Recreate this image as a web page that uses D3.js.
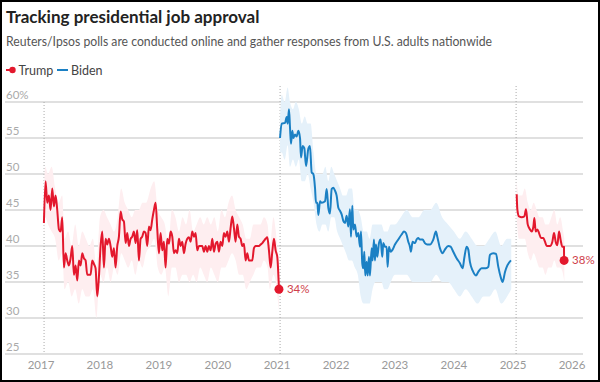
<!DOCTYPE html>
<html>
<head>
<meta charset="utf-8">
<script src="https://cdn.jsdelivr.net/npm/d3@7"></script>
<style>
  html, body { margin: 0; padding: 0; background: #fff; }
  svg { display: block; }
  text { font-family: Lato, "Noto Sans", sans-serif; }
</style>
</head>
<body>
<script>
// ---------------- DATA ----------------
const titleText = "Tracking presidential job approval";
const subtitleText = "Reuters/Ipsos polls are conducted online and gather responses from U.S. adults nationwide";
const legendLabels = ["Trump", "Biden"];

const yTicks = [25, 30, 35, 40, 45, 50, 55, 60];
const xTickYears = [2017, 2018, 2019, 2020, 2021, 2022, 2023, 2024, 2025, 2026];
const inaugurations = ["2017-01-20", "2021-01-20", "2025-01-20"];

// Trump, first term: polls in order, spaced evenly between first and last poll date
const trump1Start = "2017-01-19";
const trump1End = "2021-01-13";
const trump1Values = [
  43.2, 49, 46, 47, 45, 48, 45.5, 47, 45, 42.3, 42, 44, 37, 39, 38, 37.3, 38.3, 40, 36, 37.3,
  35.2, 38, 37.3, 39, 38.3, 38, 36, 36, 36, 38, 37.5, 36.9, 33, 35.7, 40, 42, 37, 41, 40.2, 41,
  40, 38.5, 39.7, 37, 40, 41.3, 44.8, 43.7, 43.4, 40.4, 41.8, 40, 41, 41.3, 42, 40.4, 42.2, 38, 41, 41.3,
  42, 41.8, 40, 42.7, 42.2, 43.7, 45, 46,
  42.3, 39, 41.8, 39.4, 40.6, 37, 41, 40.3, 42, 41.3, 39, 39.4, 39, 41, 40, 40.6, 39, 40.3, 41, 41.2,
  40.6, 42, 41.3, 41.8, 39.4, 40, 40, 40, 39.2, 40, 39.2, 40, 39.4, 41, 39.2, 40.3, 40.6, 39.2, 40.6, 40,
  41.8, 41.3, 42, 40.6, 42.5, 44.1, 42.5, 40.6, 43, 41.3, 41, 40, 40.3, 38, 39, 38, 38, 38, 39.7, 40,
  40, 40, 40.2, 40.4, 40.7, 41, 41.2, 39.4, 37, 39.2, 41, 39.4, 38.5, 34
];
const trump1BandYears = [2017.05, 2017.07, 2017.12, 2017.18, 2017.24, 2017.30, 2017.36, 2017.40, 2017.46, 2017.52,
  2017.58, 2017.64, 2017.70, 2017.76, 2017.82, 2017.88, 2017.94, 2018.00, 2018.06, 2018.12,
  2018.18, 2018.24, 2018.30, 2018.36, 2018.42, 2018.48, 2018.54, 2018.60, 2018.66, 2018.72,
  2018.78, 2018.86, 2018.92, 2018.98, 2019.04, 2019.10, 2019.16, 2019.22, 2019.28, 2019.34,
  2019.40, 2019.46, 2019.52, 2019.58, 2019.64, 2019.70, 2019.76, 2019.82, 2019.88, 2019.94,
  2020.00, 2020.06, 2020.12, 2020.18, 2020.24, 2020.30, 2020.36, 2020.42, 2020.48, 2020.54,
  2020.60, 2020.66, 2020.72, 2020.78, 2020.84, 2020.88, 2020.94, 2020.98, 2021.03];
const trump1BandLow = [41, 44, 43, 42, 41, 38, 39, 34, 35, 33, 34, 32, 34, 33, 33, 34, 30, 36, 35, 37,
  35, 37, 36, 39, 38, 37, 38, 36, 38, 37, 39, 40, 41, 37, 36, 37, 33, 37, 37, 35,
  36, 36, 35, 36, 35, 37, 36, 35, 37, 36, 35, 37, 37, 38, 39, 38, 36, 36, 34, 35,
  36, 37, 37, 38, 37, 34, 36, 35, 31];
const trump1BandHigh = [47, 51, 50, 51, 48, 46, 47, 41, 42, 40, 43, 40, 42, 41, 40, 41, 37, 44, 45, 44,
  43, 42, 44, 48, 46, 45, 44, 45, 45, 46, 46, 48, 49, 45, 44, 43, 40, 45, 44, 42,
  44, 43, 45, 42, 43, 44, 43, 44, 43, 44, 42, 45, 44, 46, 47, 45, 44, 43, 41, 41,
  43, 43, 43, 44, 43, 40, 44, 42, 37];

// Biden (dates as decimal years)
const bidenYears = [2021.051, 2021.079, 2021.136, 2021.164, 2021.181, 2021.203, 2021.220, 2021.237, 2021.260, 2021.277,
  2021.305, 2021.333, 2021.362, 2021.390, 2021.407, 2021.435, 2021.463, 2021.492, 2021.531, 2021.559,
  2021.588, 2021.616, 2021.644, 2021.661, 2021.684, 2021.701, 2021.729, 2021.757, 2021.814, 2021.842,
  2021.870, 2021.898, 2021.927, 2021.955, 2021.983, 2022.011, 2022.040, 2022.068, 2022.096, 2022.124,
  2022.153, 2022.181, 2022.209, 2022.237, 2022.254, 2022.277, 2022.294, 2022.322, 2022.350, 2022.379,
  2022.407, 2022.424, 2022.446, 2022.463, 2022.480, 2022.497, 2022.520, 2022.537, 2022.559, 2022.576,
  2022.605, 2022.621, 2022.644, 2022.661, 2022.678, 2022.701, 2022.729, 2022.757, 2022.785, 2022.802,
  2022.831, 2022.859, 2022.876, 2022.898, 2022.927, 2022.960, 2023.000, 2023.056, 2023.113, 2023.153,
  2023.186, 2023.226, 2023.254, 2023.271, 2023.299, 2023.339, 2023.367, 2023.395, 2023.424, 2023.469,
  2023.508, 2023.548, 2023.593, 2023.650, 2023.695, 2023.718, 2023.763, 2023.808, 2023.847, 2023.904,
  2023.944, 2023.989, 2024.045, 2024.102, 2024.147, 2024.175, 2024.215, 2024.243, 2024.271, 2024.316,
  2024.373, 2024.412, 2024.469, 2024.542, 2024.582, 2024.610, 2024.667, 2024.712, 2024.751, 2024.791,
  2024.825, 2024.864, 2024.904, 2024.966];
const bidenValues = [55, 57, 57.1, 57.9, 57, 59, 56.5, 54.2, 56, 55,
  55.5, 55.2, 56, 55, 52.3, 53.9, 53.6, 51.1, 53.5, 53.9,
  50.2, 50, 48.1, 46, 46, 44.3, 46.2, 46, 46.2, 47.9,
  45.3, 44.5, 47.9, 48.1, 47.7, 47, 45.3, 44.9, 44.4, 43.5,
  43.2, 44.2, 42.7, 45.1, 41.3, 45.6, 42.3, 43, 41.3, 41.8,
  39.9, 42, 37.6, 36.9, 39.2, 35.9, 37.8, 35.9, 38.5, 35.9,
  39.7, 38, 40.9, 38, 40.2, 38.5, 40.4, 40.9, 38.5, 40.4,
  39.9, 39.9, 37.1, 39.9, 39.2, 39.5, 40.2, 40.9, 41.6, 42,
  41.8, 40.6, 39.9, 39.2, 40.6, 40.4, 40.9, 41.1, 40.9, 40.9,
  40.4, 40.2, 40.2, 40.9, 42, 41.3, 39.7, 39, 39.5, 40,
  39.9, 39.2, 38.3, 37.6, 36.9, 38.3, 39.9, 39.5, 37.8, 36.6,
  35.9, 36.4, 36.9, 36.9, 37.1, 38.8, 39, 38.9, 37.1, 35.7,
  35, 36.4, 37.3, 38];
const bidenBandYears = [2021.05, 2021.08, 2021.13, 2021.18, 2021.22, 2021.27, 2021.32, 2021.37, 2021.42, 2021.47,
  2021.52, 2021.57, 2021.62, 2021.67, 2021.72, 2021.77, 2021.82, 2021.87, 2021.92, 2021.97,
  2022.02, 2022.07, 2022.12, 2022.17, 2022.22, 2022.27, 2022.32, 2022.37, 2022.42, 2022.47,
  2022.52, 2022.57, 2022.62, 2022.67, 2022.72, 2022.77, 2022.82, 2022.87, 2022.93, 2023.00,
  2023.10, 2023.20, 2023.30, 2023.40, 2023.50, 2023.60, 2023.70, 2023.80, 2023.90, 2024.00,
  2024.10, 2024.20, 2024.30, 2024.40, 2024.50, 2024.60, 2024.70, 2024.80, 2024.90, 2024.97];
const bidenBandLow = [53, 53, 52, 54, 51, 52, 51, 52, 49, 49, 50, 48, 46, 43, 42, 43, 43, 42, 44, 44,
  42, 41, 40, 39, 38, 38, 37, 36, 33, 32, 32, 32, 34, 35, 35, 35, 34, 34, 35, 36,
  36, 36, 35, 35, 35, 35, 36, 35, 35, 34, 33, 34, 33, 32, 33, 33, 34, 32, 33, 34];
const bidenBandHigh = [57, 61, 60, 62, 60, 59, 60, 59, 57, 58, 57, 57, 53, 50, 50, 50, 51, 49, 51, 50,
  49, 48, 47, 47, 48, 48, 45, 45, 44, 42, 42, 41, 43, 43, 43, 43, 42, 42, 43, 43,
  44, 45, 44, 44, 45, 45, 46, 44, 43, 42, 41, 42, 41, 40, 40, 41, 42, 40, 41, 41];

// Trump, second term (dates as decimal years)
const trump2Years = [2025.062, 2025.073, 2025.102, 2025.147, 2025.192, 2025.220, 2025.249, 2025.288, 2025.316, 2025.345,
  2025.362, 2025.384, 2025.412, 2025.441, 2025.475, 2025.514, 2025.542, 2025.571, 2025.627, 2025.667,
  2025.695, 2025.723, 2025.751, 2025.780, 2025.808, 2025.836, 2025.864, 2025.866];
const trump2Values = [47.2, 45.1, 44.1, 44, 44.1, 45.1, 43, 42.3, 42, 42.7,
  43.9, 42, 42.3, 41.8, 41.1, 41.1, 40.6, 40, 40, 40.6,
  41.8, 40.6, 40.1, 42, 40.8, 39.9, 39.9, 38];
const trump2BandYears = [2025.06, 2025.10, 2025.15, 2025.20, 2025.25, 2025.30, 2025.35, 2025.40, 2025.45, 2025.50,
  2025.55, 2025.60, 2025.65, 2025.70, 2025.75, 2025.80, 2025.85, 2025.87];
const trump2BandLow = [44, 41, 41, 41, 39, 38, 39, 38, 37, 37, 36, 37, 37, 38, 37, 37, 36, 35];
const trump2BandHigh = [49, 47, 47, 48, 46, 45, 46, 45, 44, 44, 43, 43, 44, 45, 43, 44, 42, 41];

// ---------------- CHART ----------------
const W = 600, H = 382;
const colors = { trump: "#e3182d", biden: "#1b80c4", trumpBand: "#feeef0", bidenBand: "#e5f1fa" };

function yearToDate(y) {
  const yr = Math.floor(y);
  const a = new Date(yr, 0, 1), b = new Date(yr + 1, 0, 1);
  return new Date(+a + (y - yr) * (b - a));
}
const parse = d3.timeParse("%Y-%m-%d");

const x = d3.scaleTime().domain([new Date(2017, 0, 1), new Date(2026, 0, 1)]).range([41, 572]);
const y = d3.scaleLinear().domain([25, 60]).range([354, 102]);

const svg = d3.select("body").append("svg").attr("width", W).attr("height", H);
svg.append("rect").attr("x", 0).attr("y", 0).attr("width", W).attr("height", H).attr("fill", "#fff");

// Title & subtitle
svg.append("text").attr("x", 6).attr("y", 23).text(titleText)
  .attr("font-size", 17).attr("font-weight", 700).attr("fill", "#222");
svg.append("text").attr("x", 6).attr("y", 46).text(subtitleText)
  .attr("font-size", 13.8).attr("fill", "#555")
  .attr("textLength", 486).attr("lengthAdjust", "spacingAndGlyphs");

// Legend
const lg = svg.append("g");
lg.append("line").attr("x1", 6).attr("x2", 12).attr("y1", 70).attr("y2", 70)
  .attr("stroke", colors.trump).attr("stroke-width", 2);
lg.append("circle").attr("cx", 12.5).attr("cy", 70).attr("r", 3.2).attr("fill", colors.trump);
lg.append("text").attr("x", 18.5).attr("y", 74.5).text(legendLabels[0]).attr("font-size", 12.5).attr("fill", "#444");
lg.append("line").attr("x1", 57).attr("x2", 68).attr("y1", 70).attr("y2", 70)
  .attr("stroke", colors.biden).attr("stroke-width", 2);
lg.append("text").attr("x", 71).attr("y", 74.5).text(legendLabels[1]).attr("font-size", 12.5).attr("fill", "#444");

// Gridlines + y labels
const grid = svg.append("g");
grid.selectAll("line").data(yTicks).join("line")
  .attr("x1", 5).attr("x2", 583)
  .attr("y1", d => y(d)).attr("y2", d => y(d))
  .attr("stroke", "#d6d6d6").attr("stroke-width", 1.5);
grid.selectAll("text").data(yTicks).join("text")
  .attr("x", 6).attr("y", d => y(d) - 3.5)
  .text(d => d === 60 ? d + "%" : d)
  .attr("font-size", 11.5).attr("fill", "#aaa");

// X axis labels
svg.append("g").selectAll("text").data(xTickYears).join("text")
  .attr("x", d => x(new Date(d, 0, 1))).attr("y", 369)
  .attr("text-anchor", "middle").text(d => d)
  .attr("font-size", 11.5).attr("fill", "#999");

// Inauguration dotted lines
svg.append("g").selectAll("line").data(inaugurations).join("line")
  .attr("x1", d => x(parse(d))).attr("x2", d => x(parse(d)))
  .attr("y1", (d, i) => i === 0 ? 102 : 86).attr("y2", 354)
  .attr("stroke", "#aaa").attr("stroke-width", 1).attr("stroke-dasharray", "1,2");

// Build series
const t1s = parse(trump1Start), t1e = parse(trump1End);
const t1idx = d3.scaleLinear().domain([0, trump1Values.length - 1]).range([+t1s, +t1e]);
const trump1 = trump1Values.map((v, i) => ({ date: new Date(t1idx(i)), v }));
const biden = bidenValues.map((v, i) => ({ date: yearToDate(bidenYears[i]), v }));
const trump2 = trump2Values.map((v, i) => ({ date: yearToDate(trump2Years[i]), v }));
const band = (yrs, lo, hi) => yrs.map((yy, i) => ({ date: yearToDate(yy), lo: lo[i], hi: hi[i] }));
const trump1Band = band(trump1BandYears, trump1BandLow, trump1BandHigh);
const bidenBand = band(bidenBandYears, bidenBandLow, bidenBandHigh);
const trump2Band = band(trump2BandYears, trump2BandLow, trump2BandHigh);

const area = d3.area().x(d => x(d.date)).y0(d => y(d.lo)).y1(d => y(d.hi)).curve(d3.curveMonotoneX);
const line = d3.line().x(d => x(d.date)).y(d => y(d.v)).curve(d3.curveMonotoneX);

const bands = svg.append("g");
bands.append("path").datum(trump1Band).attr("d", area).attr("fill", colors.trumpBand);
bands.append("path").datum(bidenBand).attr("d", area).attr("fill", colors.bidenBand);
bands.append("path").datum(trump2Band).attr("d", area).attr("fill", colors.trumpBand);

const lines = svg.append("g").attr("fill", "none").attr("stroke-width", 2).attr("stroke-linejoin", "round");
lines.append("path").datum(trump1).attr("d", line).attr("stroke", colors.trump);
lines.append("path").datum(biden).attr("d", line).attr("stroke", colors.biden);
lines.append("path").datum(trump2).attr("d", line).attr("stroke", colors.trump);

// End dots + labels
[trump1, trump2].forEach(s => {
  const last = s[s.length - 1];
  svg.append("circle").attr("cx", x(last.date)).attr("cy", y(last.v)).attr("r", 4.5).attr("fill", colors.trump);
  svg.append("text").attr("x", x(last.date) + 8).attr("y", y(last.v) + 4)
    .text(Math.round(last.v) + "%").attr("font-size", 11.5).attr("fill", "#cf3f4c");
});

// Frame
svg.append("rect").attr("x", 1).attr("y", 1).attr("width", W - 2).attr("height", H - 2)
  .attr("fill", "none").attr("stroke", "#000").attr("stroke-width", 2);
</script>
</body>
</html>
